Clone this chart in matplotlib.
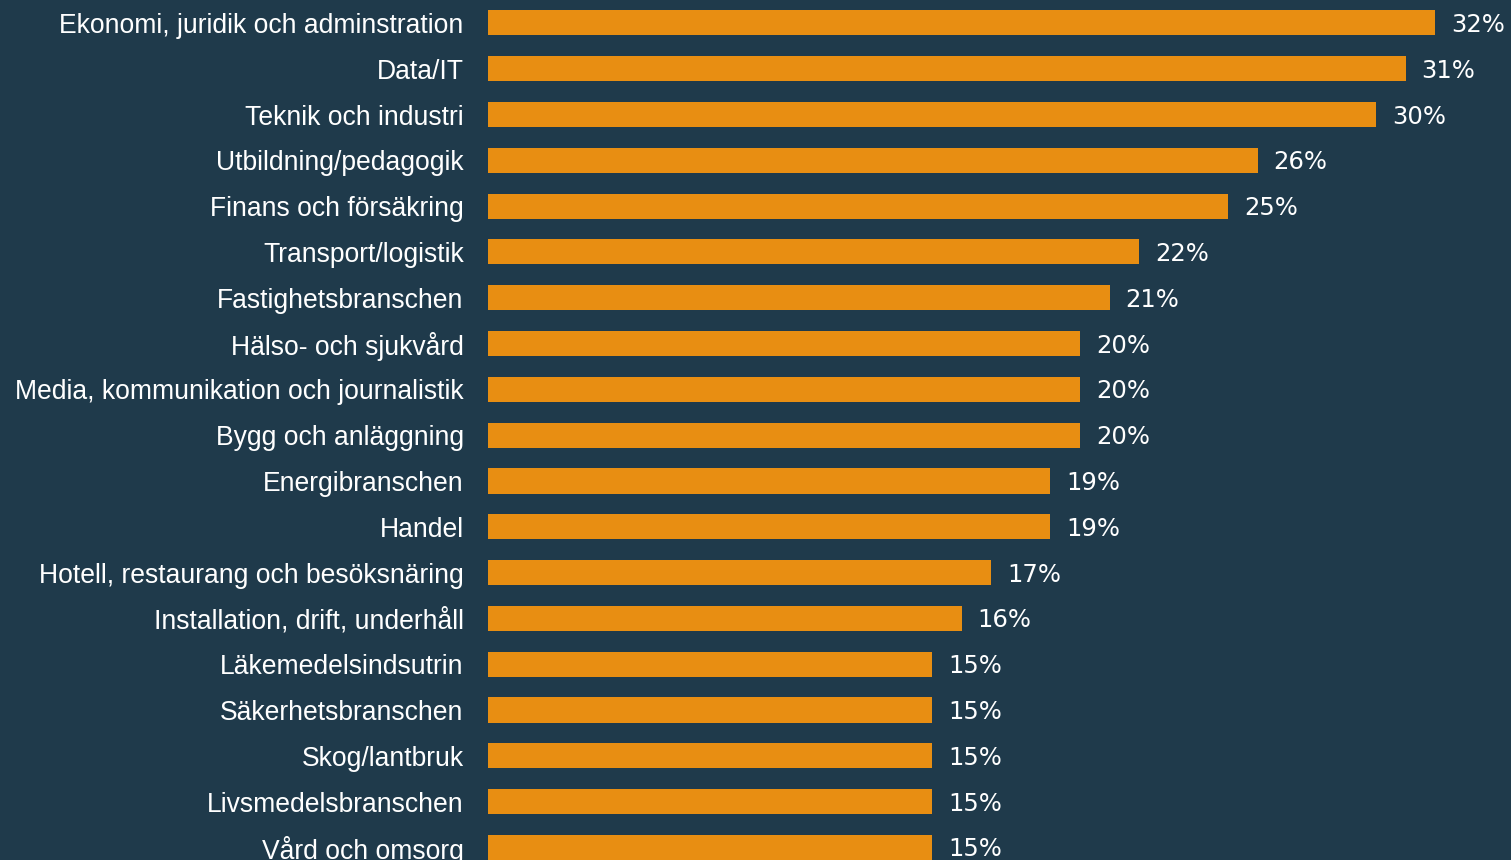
import matplotlib
matplotlib.use("Agg")
import matplotlib.pyplot as plt

categories = [
    "Ekonomi, juridik och adminstration", "Data/IT", "Teknik och industri",
    "Utbildning/pedagogik", "Finans och försäkring", "Transport/logistik",
    "Fastighetsbranschen", "Hälso- och sjukvård",
    "Media, kommunikation och journalistik", "Bygg och anläggning",
    "Energibranschen", "Handel", "Hotell, restaurang och besöksnäring",
    "Installation, drift, underhåll", "Läkemedelsindsutrin",
    "Säkerhetsbranschen", "Skog/lantbruk", "Livsmedelsbranschen",
    "Vård och omsorg",
]
values = [32, 31, 30, 26, 25, 22, 21, 20, 20, 20, 19, 19, 17, 16, 15, 15, 15, 15, 15]

BG = "#1f3a4b"
BAR = "#e88e12"

W, H = 1511, 860
fig = plt.figure(figsize=(W / 100, H / 100), dpi=100, facecolor=BG)
ax = fig.add_axes([488 / W, 0, 1 - 488 / W, 1])
ax.set_facecolor(BG)

ypos = list(range(len(categories)))
ax.barh(ypos, values, height=0.546, color=BAR, edgecolor="none")

ax.set_xlim(0, (W - 488) / 29.6)
ax.set_ylim(18.275, -0.502)

ax.set_yticks(ypos)
ax.set_yticklabels(categories, family=["Liberation Sans", "DejaVu Sans"],
                   fontsize=19.1, color="white")
ax.tick_params(axis="y", length=0, pad=17.5)
ax.set_xticks([])
for s in ax.spines.values():
    s.set_visible(False)

for y, v in zip(ypos, values):
    ax.annotate(f"{v}%", xy=(v, y), xytext=(16, -2), textcoords="offset pixels",
                va="center", ha="left", color="white", fontsize=17.5,
                family=["DejaVu Sans"])

fig.savefig("out.png", dpi=100, facecolor=BG)
